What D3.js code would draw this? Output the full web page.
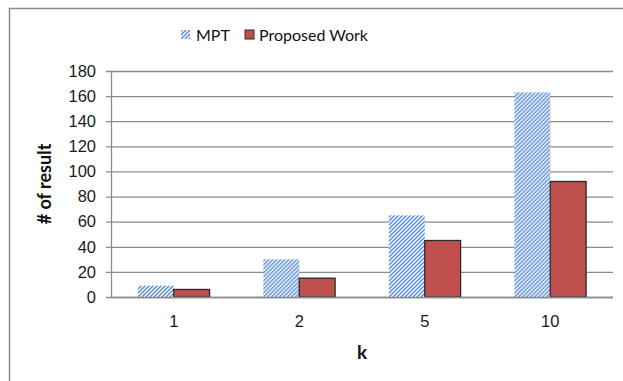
<!DOCTYPE html>
<html>
<head>
<meta charset="utf-8">
<script src="https://cdn.jsdelivr.net/npm/d3@7"></script>
<style>
  html, body { margin: 0; padding: 0; background: #fff; }
  svg { display: block; font-family: Lato, "Open Sans", "Liberation Sans", sans-serif; }
</style>
</head>
<body>
<svg id="chart" width="623" height="381"></svg>
<script>
// Number of results per k for the two methods
const categories = ["1", "2", "5", "10"];
const seriesNames = ["MPT", "Proposed Work"];
const mptValues = [9, 30, 65, 163];
const proposedValues = [6, 15, 45, 92];
const yTicks = [0, 20, 40, 60, 80, 100, 120, 140, 160, 180];

const svg = d3.select("#chart");
const plot = { left: 111, right: 613, top: 71, bottom: 297 };

// Outer chart frame
svg.append("rect")
  .attr("x", 9.5).attr("y", 8.5)
  .attr("width", 640).attr("height", 400)
  .attr("fill", "none").attr("stroke", "#8c8c8c").attr("stroke-width", 1.5);

// Diagonal hatch used for the MPT bars
const defs = svg.append("defs");
const pat = defs.append("pattern")
  .attr("id", "hatch")
  .attr("patternUnits", "userSpaceOnUse")
  .attr("width", 4).attr("height", 4);
pat.append("rect").attr("width", 4).attr("height", 4).attr("fill", "#ffffff");
pat.append("path")
  .attr("d", "M-1,1 l2,-2 M0,4 l4,-4 M3,5 l2,-2")
  .attr("stroke", "#5b8ed4").attr("stroke-width", 1.5);

const x = d3.scaleBand()
  .domain(categories)
  .range([plot.left, plot.right])
  .paddingInner(0)
  .paddingOuter(0);

const inner = d3.scaleBand()
  .domain(seriesNames)
  .range([0, x.bandwidth()])
  .paddingInner(0)
  .paddingOuter(0.75);

const y = d3.scaleLinear().domain([0, 180]).range([plot.bottom, plot.top]);

// Gridlines and y ticks
const yAxis = d3.axisLeft(y)
  .tickValues(yTicks)
  .tickSize(-(plot.right - plot.left + 5))
  .tickPadding(10)
  .tickFormat(d3.format("d"));

const gy = svg.append("g")
  .attr("transform", `translate(${plot.left - 5},0)`)
  .call(yAxis);
gy.select(".domain").remove();
gy.selectAll(".tick line").attr("stroke", "#8c8c8c").attr("stroke-width", 1.3);
gy.selectAll(".tick text")
  .attr("fill", "#1a1a1a").attr("font-size", 16.5);

// Vertical axis line
svg.append("line")
  .attr("x1", plot.left + 0.5).attr("x2", plot.left + 0.5)
  .attr("y1", plot.top).attr("y2", plot.bottom)
  .attr("stroke", "#8c8c8c").attr("stroke-width", 1.3);

// Bars
const data = categories.map((c, i) => ({
  cat: c,
  vals: [
    { name: seriesNames[0], v: mptValues[i] },
    { name: seriesNames[1], v: proposedValues[i] }
  ]
}));

const groups = svg.append("g").selectAll("g")
  .data(data).join("g")
  .attr("transform", d => `translate(${x(d.cat)},0)`);

groups.selectAll("rect")
  .data(d => d.vals).join("rect")
  .attr("x", d => inner(d.name))
  .attr("y", d => y(d.v))
  .attr("width", inner.bandwidth())
  .attr("height", d => y(0) - y(d.v))
  .attr("fill", d => d.name === "MPT" ? "url(#hatch)" : "#c0504d")
  .attr("stroke", d => d.name === "MPT" ? "none" : "#2b2b2b")
  .attr("stroke-width", 1.3);

// Horizontal axis line (drawn over bar bottoms)
svg.append("line")
  .attr("x1", plot.left).attr("x2", plot.right)
  .attr("y1", plot.bottom + 0.5).attr("y2", plot.bottom + 0.5)
  .attr("stroke", "#8c8c8c").attr("stroke-width", 1.3);

// Category labels
const xAxis = d3.axisBottom(x).tickSize(0).tickPadding(18);
const gx = svg.append("g")
  .attr("transform", `translate(0,${plot.bottom})`)
  .call(xAxis);
gx.select(".domain").remove();
gx.selectAll(".tick text").attr("fill", "#1a1a1a").attr("font-size", 16.5);

// Axis titles
svg.append("text")
  .attr("x", 362).attr("y", 359)
  .attr("text-anchor", "middle")
  .attr("font-weight", "bold").attr("font-size", 19)
  .attr("fill", "#111")
  .text("k");

svg.append("text")
  .attr("transform", "translate(51,184) rotate(-90)")
  .attr("text-anchor", "middle")
  .attr("font-weight", "bold").attr("font-size", 18)
  .attr("fill", "#111")
  .text("# of result");

// Legend
const legend = svg.append("g");
const legendItems = [
  { name: seriesNames[0], sx: 181, tx: 196, fill: "url(#hatch)", stroke: "none" },
  { name: seriesNames[1], sx: 245, tx: 259, fill: "#c0504d", stroke: "#2b2b2b" }
];
legendItems.forEach(it => {
  legend.append("rect")
    .attr("x", it.sx).attr("y", 30)
    .attr("width", 9).attr("height", 9)
    .attr("fill", it.fill).attr("stroke", it.stroke).attr("stroke-width", 1);
  legend.append("text")
    .attr("x", it.tx).attr("y", 40.5)
    .attr("font-size", 16).attr("fill", "#111")
    .text(it.name);
});
</script>
</body>
</html>
